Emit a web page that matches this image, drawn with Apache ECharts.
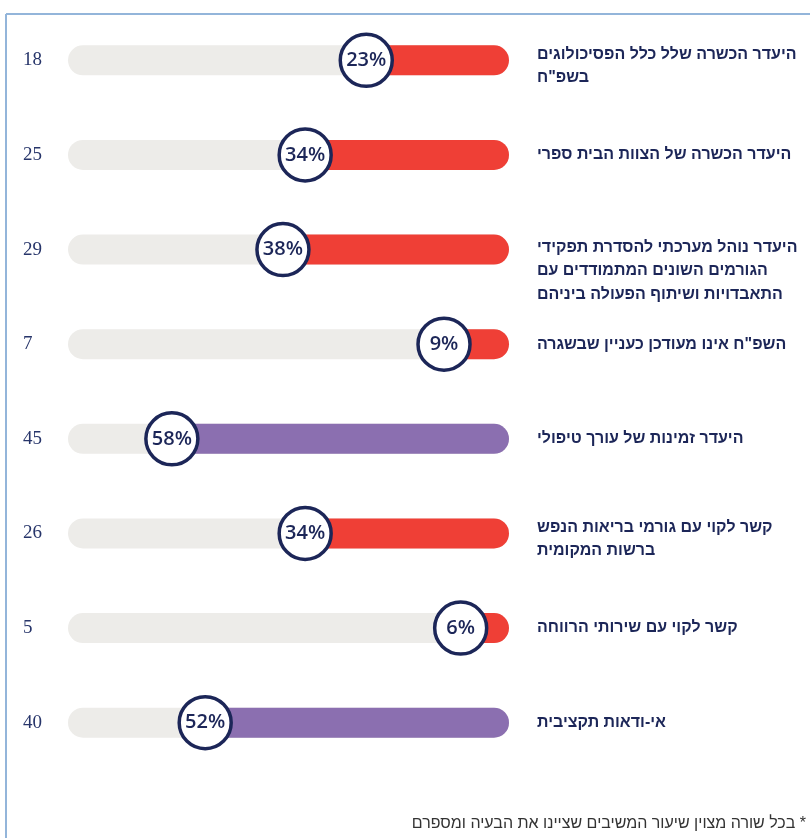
<!DOCTYPE html>
<html>
<head>
<meta charset="utf-8">
<script src="https://cdn.jsdelivr.net/npm/echarts@6/dist/echarts.min.js"></script>
<style>
html,body{margin:0;padding:0;background:#fff;}
#chart{width:810px;height:838px;}
</style>
</head>
<body>
<div id="chart"></div>
<script>
const categories = [
  'היעדר הכשרה שלל כלל הפסיכולוגים\nבשפ"ח',
  'היעדר הכשרה של הצוות הבית ספרי',
  'היעדר נוהל מערכתי להסדרת תפקידי\nהגורמים השונים המתמודדים עם\nהתאבדויות ושיתוף הפעולה ביניהם',
  'השפ"ח אינו מעודכן כעניין שבשגרה',
  'היעדר זמינות של עורך טיפולי',
  'קשר לקוי עם גורמי בריאות הנפש\nברשות המקומית',
  'קשר לקוי עם שירותי הרווחה',
  'אי-ודאות תקציבית'
];
const percents = [23, 34, 38, 9, 58, 34, 6, 52];
const counts = [18, 25, 29, 7, 45, 26, 5, 40];
const footnote = '\u200F* בכל שורה מצוין שיעור המשיבים שציינו את הבעיה ומספרם';

const X_MAX = 74;
const BAR_H = 30;
const CAP = 15;
const RED = '#ef3f36';
const PURPLE = '#8b6fb0';
const TRACK = '#edece9';
const NAVY = '#1c2658';
const LINE_H = 23.5;

const chart = echarts.init(document.getElementById('chart'));

const trackData = percents.map((v, i) => [v, i]);

chart.setOption({
  animation: false,
  grid: { left: 83, right: 316, top: 13, height: 757 },
  xAxis: { type: 'value', inverse: true, min: 0, max: X_MAX, show: false },
  yAxis: [
    {
      type: 'category', inverse: true, data: categories, position: 'right',
      axisLine: { show: false }, axisTick: { show: false }, axisLabel: { show: false }
    },
    {
      type: 'category', inverse: true, data: counts.map(String), position: 'left',
      axisLine: { show: false }, axisTick: { show: false },
      axisLabel: {
        align: 'left', margin: 60, color: '#27356a',
        fontFamily: 'Liberation Serif', fontSize: 19
      }
    }
  ],
  series: [
    {
      type: 'custom', z: 1,
      data: trackData,
      renderItem: function (params, api) {
        const idx = api.value(1);
        const pL = api.coord([X_MAX, idx]);
        const p0 = api.coord([0, idx]);
        const cy = p0[1];
        const label = categories[idx];
        const lines = label.split('\n').length;
        const firstOff = lines === 1 ? 0 : (lines === 2 ? -6 : -2);
        return {
          type: 'group',
          children: [
            {
              type: 'rect',
              shape: { x: pL[0] - CAP, y: cy - BAR_H / 2, width: p0[0] - pL[0] + 2 * CAP, height: BAR_H, r: BAR_H / 2 },
              style: { fill: TRACK }
            },
            {
              type: 'text',
              x: p0[0] + 43,
              y: cy + firstOff - LINE_H / 2,
              style: {
                text: label, fill: NAVY, align: 'left', verticalAlign: 'top',
                font: 'bold 16px "Liberation Sans"', lineHeight: LINE_H
              }
            }
          ]
        };
      }
    },
    {
      type: 'custom', z: 2,
      data: trackData,
      renderItem: function (params, api) {
        const v = api.value(0);
        const idx = api.value(1);
        const pv = api.coord([v, idx]);
        const p0 = api.coord([0, idx]);
        return {
          type: 'rect',
          shape: { x: pv[0], y: pv[1] - BAR_H / 2, width: p0[0] - pv[0] + CAP, height: BAR_H, r: [0, BAR_H / 2, BAR_H / 2, 0] },
          style: { fill: v >= 50 ? PURPLE : RED }
        };
      }
    },
    {
      type: 'scatter', z: 3,
      data: trackData,
      symbol: 'circle', symbolSize: 52,
      itemStyle: { color: '#ffffff', borderColor: NAVY, borderWidth: 3.5, opacity: 1 },
      label: {
        show: true, position: 'inside',
        formatter: p => p.value[0] + '%',
        color: NAVY, fontFamily: 'Open Sans', fontWeight: 600, fontSize: 20
      },
      emphasis: { disabled: true }
    }
  ],
  graphic: [
    { type: 'line', shape: { x1: 6, y1: 14, x2: 810, y2: 14 }, style: { stroke: '#93b5da', lineWidth: 2 } },
    { type: 'line', shape: { x1: 6, y1: 14, x2: 6, y2: 838 }, style: { stroke: '#93b5da', lineWidth: 2 } },
    {
      type: 'text', right: 4, bottom: 6,
      style: { text: footnote, fill: '#333333', font: '16px "Liberation Sans"' }
    }
  ]
});
</script>
</body>
</html>
